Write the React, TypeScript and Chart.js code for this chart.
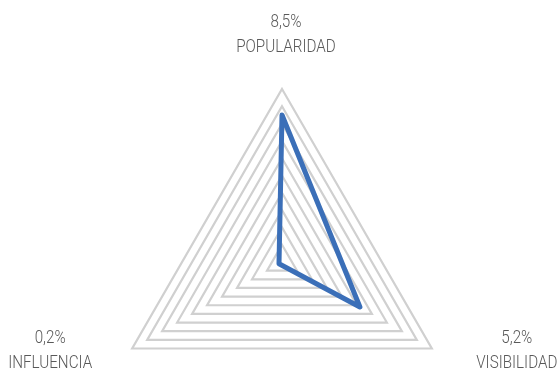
import React, { useEffect, useRef } from "react";
import { Chart, registerables } from "chart.js";

Chart.register(...registerables);

const categories = ["POPULARIDAD", "VISIBILIDAD", "INFLUENCIA"];
const shares = [8.5, 5.2, 0.2];
const scaleMax = 10;
const scaleStep = 1;

const FONT = "Roboto, sans-serif";
// Horizontal squeeze for a condensed look
const SQUEEZE = 0.8;

const formatShare = (v: number) => v.toFixed(1).replace(".", ",") + "%";

// Offsets of each two-line label (value over name) from its axis vertex
const labelOffsets = [
  { dx: 4, dy: -67 },
  { dx: 85, dy: -10 },
  { dx: -82, dy: -10 },
];

const cornerLabels = {
  id: "cornerLabels",
  afterDraw(chart: any) {
    const scale = chart.scales.r;
    const ctx = chart.ctx;
    categories.forEach((name, i) => {
      const p = scale.getPointPosition(i, scale.drawingArea);
      const off = labelOffsets[i];
      const x = p.x + off.dx;
      const y = p.y + off.dy;
      ctx.save();
      ctx.translate(x, y);
      ctx.scale(SQUEEZE, 1);
      ctx.fillStyle = "#595959";
      ctx.font = `300 19px ${FONT}`;
      ctx.textAlign = "center";
      ctx.textBaseline = "middle";
      ctx.fillText(formatShare(shares[i]), 0, 0);
      ctx.fillText(name, 0, 25);
      ctx.restore();
    });
  },
};

export default function App() {
  const canvasRef = useRef<HTMLCanvasElement | null>(null);

  useEffect(() => {
    if (!canvasRef.current) return;
    const chart = new Chart(canvasRef.current, {
      type: "radar",
      data: {
        labels: categories,
        datasets: [
          {
            data: shares,
            borderColor: "#3b6fb8",
            borderWidth: 5,
            borderJoinStyle: "round",
            fill: false,
            pointRadius: 0,
            pointHoverRadius: 0,
          },
        ],
      },
      options: {
        animation: false,
        responsive: false,
        maintainAspectRatio: false,
        layout: { padding: { top: 89, left: 109, right: 102, bottom: 0 } },
        plugins: {
          legend: { display: false },
          tooltip: { enabled: false },
        },
        scales: {
          r: {
            min: 0,
            max: scaleMax,
            ticks: { display: false, stepSize: scaleStep },
            grid: { color: "#d0d0d0", lineWidth: 2.2 },
            angleLines: { display: false },
            pointLabels: { display: false },
          },
        },
      },
      plugins: [cornerLabels],
    });
    return () => chart.destroy();
  }, []);

  return (
    <div
      style={{
        position: "fixed",
        left: 0,
        top: 0,
        width: 557,
        height: 372,
        overflow: "hidden",
        background: "#ffffff",
      }}
    >
      <canvas ref={canvasRef} width={557} height={435} style={{ display: "block" }} />
    </div>
  );
}
